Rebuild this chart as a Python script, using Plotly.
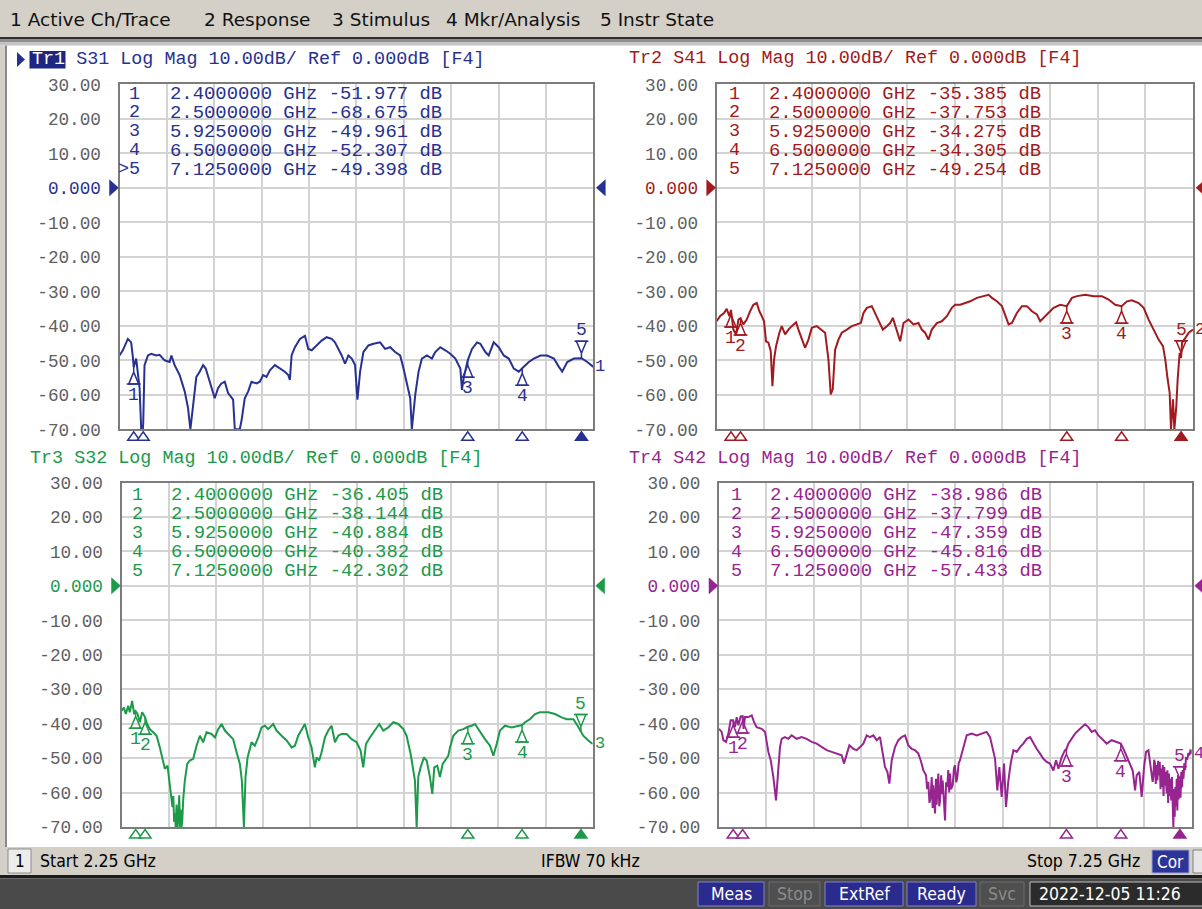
import plotly.graph_objects as go

W, H = 1202, 909

# ---------------------------------------------------------------- data
freq_s31 = [
    2.250, 2.285, 2.338, 2.373, 2.391, 2.400, 2.426, 2.462, 2.479, 2.500,
    2.514, 2.550, 2.585, 2.638, 2.673, 2.726, 2.779, 2.797, 2.832, 2.885,
    2.938, 2.973, 2.998, 3.026, 3.061, 3.096, 3.132, 3.160, 3.202, 3.255,
    3.290, 3.325, 3.361, 3.396, 3.449, 3.467, 3.519, 3.537, 3.572, 3.608,
    3.643, 3.696, 3.731, 3.766, 3.801, 3.837, 3.890, 3.943, 3.995, 4.031,
    4.048, 4.066, 4.101, 4.154, 4.207, 4.242, 4.278, 4.330, 4.383, 4.436,
    4.489, 4.524, 4.560, 4.595, 4.630, 4.665, 4.701, 4.736, 4.761, 4.789,
    4.824, 4.877, 4.930, 5.000, 5.053, 5.106, 5.159, 5.212, 5.247, 5.282,
    5.318, 5.335, 5.371, 5.406, 5.441, 5.494, 5.547, 5.582, 5.635, 5.688,
    5.741, 5.794, 5.847, 5.864, 5.882, 5.925, 5.970, 6.023, 6.058, 6.111,
    6.146, 6.199, 6.252, 6.305, 6.358, 6.411, 6.464, 6.500, 6.569, 6.622,
    6.693, 6.763, 6.834, 6.887, 6.922, 6.975, 7.045, 7.125, 7.187, 7.250]
db_s31 = [
    -48.6, -47.1, -43.8, -44.8, -49.0, -52.0, -49.5, -58.1, -70.0, -68.7,
    -51.4, -48.6, -48.1, -48.6, -48.4, -50.0, -50.5, -48.6, -51.4, -54.3,
    -59.0, -63.8, -70.0, -62.9, -54.8, -53.3, -51.4, -52.4, -56.2, -61.0,
    -58.1, -56.7, -56.2, -59.5, -61.4, -70.0, -70.0, -67.6, -61.0, -59.0,
    -56.2, -56.7, -56.2, -54.3, -54.8, -52.9, -51.4, -52.4, -53.3, -54.3,
    -55.7, -48.6, -46.2, -43.8, -42.9, -46.7, -47.1, -45.7, -44.3, -43.3,
    -43.8, -44.8, -46.7, -48.6, -51.0, -48.6, -49.5, -51.4, -61.4, -53.3,
    -47.6, -45.7, -45.2, -44.8, -46.7, -46.2, -47.6, -48.6, -52.4, -57.1,
    -61.0, -70.0, -60.0, -53.3, -49.5, -48.6, -49.5, -47.6, -46.2, -47.1,
    -48.1, -49.5, -52.4, -58.6, -55.2, -50.0, -46.7, -44.8, -45.2, -47.6,
    -48.6, -44.8, -46.2, -48.6, -49.5, -52.4, -53.3, -52.3, -50.5, -49.5,
    -48.6, -48.6, -49.5, -51.9, -53.3, -50.5, -49.5, -49.4, -50.5, -51.9]

freq_s41 = [
    2.250, 2.285, 2.327, 2.355, 2.383, 2.400, 2.425, 2.453, 2.478, 2.500,
    2.530, 2.565, 2.600, 2.635, 2.670, 2.698, 2.723, 2.747, 2.768, 2.793,
    2.817, 2.835, 2.852, 2.873, 2.908, 2.933, 2.968, 3.003, 3.038, 3.083,
    3.108, 3.143, 3.178, 3.213, 3.248, 3.300, 3.353, 3.388, 3.423, 3.447,
    3.468, 3.493, 3.528, 3.563, 3.616, 3.668, 3.721, 3.763, 3.791, 3.826,
    3.878, 3.913, 3.948, 3.994, 4.036, 4.071, 4.099, 4.141, 4.176, 4.211,
    4.263, 4.316, 4.368, 4.403, 4.438, 4.473, 4.508, 4.561, 4.613, 4.666,
    4.718, 4.753, 4.806, 4.859, 4.911, 4.981, 5.051, 5.104, 5.139, 5.191,
    5.244, 5.279, 5.314, 5.349, 5.401, 5.454, 5.506, 5.559, 5.611, 5.646,
    5.699, 5.734, 5.786, 5.856, 5.925, 5.979, 6.032, 6.119, 6.207, 6.294,
    6.364, 6.434, 6.500, 6.557, 6.609, 6.679, 6.732, 6.784, 6.837, 6.889,
    6.935, 6.959, 6.984, 7.005, 7.019, 7.040, 7.054, 7.075, 7.089, 7.110,
    7.125, 7.135, 7.170, 7.205, 7.250]
db_s41 = [
    -38.7, -37.2, -36.3, -35.1, -37.2, -35.4, -41.1, -42.5, -38.2, -37.8,
    -39.6, -38.2, -35.8, -33.9, -33.4, -35.8, -37.2, -38.7, -44.5, -44.9,
    -47.3, -57.5, -49.8, -45.9, -42.0, -40.1, -42.5, -41.1, -40.1, -39.0,
    -41.1, -43.5, -46.4, -44.0, -40.6, -40.1, -41.1, -42.0, -49.8, -59.9,
    -58.4, -46.9, -44.0, -42.0, -41.1, -40.1, -39.6, -39.2, -36.3, -34.8,
    -34.3, -36.3, -38.2, -41.1, -40.1, -39.2, -37.7, -41.1, -44.5, -39.2,
    -38.2, -39.6, -39.2, -41.1, -42.0, -44.0, -41.1, -39.2, -38.7, -37.2,
    -34.8, -33.9, -33.9, -33.4, -32.9, -31.9, -31.4, -31.0, -31.9, -32.9,
    -34.3, -37.2, -39.6, -39.2, -36.3, -34.3, -34.3, -35.8, -36.7, -38.7,
    -37.2, -36.3, -34.8, -33.9, -34.3, -31.9, -31.4, -31.0, -31.4, -31.4,
    -32.4, -33.9, -34.3, -32.9, -32.6, -33.4, -34.8, -38.2, -41.1, -44.0,
    -45.9, -49.8, -55.5, -59.4, -70.0, -61.3, -70.0, -63.3, -55.5, -47.8,
    -49.3, -44.9, -43.5, -42.0, -41.1]

freq_s32 = [
    2.250, 2.275, 2.296, 2.321, 2.338, 2.363, 2.384, 2.400, 2.420, 2.445,
    2.469, 2.500, 2.522, 2.551, 2.586, 2.622, 2.657, 2.685, 2.710, 2.738,
    2.763, 2.791, 2.800, 2.808, 2.816, 2.825, 2.834, 2.845, 2.855, 2.862,
    2.872, 2.880, 2.887, 2.895, 2.905, 2.922, 2.947, 2.975, 3.011, 3.046,
    3.082, 3.117, 3.152, 3.205, 3.241, 3.276, 3.312, 3.347, 3.400, 3.435,
    3.471, 3.506, 3.527, 3.549, 3.566, 3.588, 3.630, 3.665, 3.701, 3.736,
    3.772, 3.807, 3.860, 3.895, 3.949, 4.002, 4.055, 4.090, 4.125, 4.161,
    4.196, 4.232, 4.267, 4.302, 4.320, 4.348, 4.373, 4.409, 4.444, 4.479,
    4.515, 4.550, 4.585, 4.639, 4.692, 4.745, 4.787, 4.815, 4.844, 4.886,
    4.939, 4.985, 5.028, 5.081, 5.134, 5.187, 5.240, 5.275, 5.318, 5.346,
    5.364, 5.382, 5.399, 5.424, 5.459, 5.488, 5.523, 5.548, 5.569, 5.601,
    5.629, 5.658, 5.682, 5.718, 5.736, 5.771, 5.824, 5.877, 5.925, 5.965,
    6.001, 6.054, 6.107, 6.160, 6.196, 6.231, 6.266, 6.319, 6.390, 6.500,
    6.532, 6.585, 6.638, 6.691, 6.779, 6.850, 6.921, 6.974, 7.045, 7.090,
    7.125, 7.150, 7.203, 7.250]
db_s32 = [
    -36.3, -35.3, -37.2, -34.8, -36.7, -33.4, -37.2, -36.4, -37.2, -39.6,
    -36.7, -38.1, -40.1, -41.6, -42.5, -43.5, -46.9, -50.7, -53.1, -52.2,
    -57.5, -64.2, -61.0, -68.5, -66.0, -70.0, -63.5, -70.0, -67.0, -60.8,
    -70.0, -65.0, -70.0, -68.0, -62.0, -56.5, -51.7, -50.7, -50.2, -46.4,
    -43.5, -45.4, -42.5, -43.0, -44.0, -41.6, -40.1, -42.0, -43.5, -44.5,
    -48.3, -51.7, -56.5, -70.0, -55.5, -49.8, -45.4, -46.4, -44.0, -41.1,
    -40.6, -41.6, -40.1, -42.0, -43.5, -44.9, -46.9, -46.4, -43.5, -41.6,
    -40.1, -44.0, -46.9, -52.7, -49.8, -50.7, -48.3, -44.0, -42.0, -40.6,
    -45.4, -43.5, -43.0, -43.0, -44.5, -45.4, -47.8, -52.7, -45.9, -44.0,
    -42.0, -40.1, -42.0, -41.1, -39.6, -40.1, -41.6, -43.5, -48.8, -53.1,
    -56.5, -70.0, -55.5, -52.7, -49.8, -50.7, -55.5, -60.4, -52.7, -52.2,
    -55.5, -51.7, -50.7, -49.3, -46.9, -43.5, -42.0, -41.6, -40.9, -40.6,
    -40.1, -42.5, -44.5, -46.4, -49.3, -45.9, -42.0, -40.6, -41.1, -40.4,
    -39.6, -38.7, -37.2, -36.7, -36.7, -37.2, -38.2, -38.7, -38.7, -40.6,
    -42.3, -43.5, -44.9, -45.9]

freq_s42 = [
    2.250, 2.278, 2.296, 2.324, 2.349, 2.373, 2.400, 2.419, 2.437, 2.455,
    2.479, 2.500, 2.510, 2.525, 2.560, 2.596, 2.620, 2.648, 2.701, 2.737,
    2.772, 2.797, 2.825, 2.853, 2.874, 2.895, 2.913, 2.948, 2.983, 3.019,
    3.072, 3.124, 3.177, 3.230, 3.283, 3.336, 3.389, 3.442, 3.495, 3.548,
    3.572, 3.601, 3.629, 3.671, 3.706, 3.742, 3.777, 3.812, 3.847, 3.883,
    3.918, 3.953, 3.981, 4.006, 4.031, 4.052, 4.077, 4.112, 4.147, 4.182,
    4.218, 4.253, 4.288, 4.323, 4.359, 4.383, 4.412, 4.440, 4.452, 4.464,
    4.476, 4.489, 4.500, 4.510, 4.517, 4.526, 4.535, 4.545, 4.552, 4.560,
    4.570, 4.580, 4.588, 4.600, 4.608, 4.616, 4.628, 4.641, 4.652, 4.665,
    4.675, 4.685, 4.694, 4.705, 4.722, 4.735, 4.746, 4.760, 4.771, 4.785,
    4.799, 4.835, 4.870, 4.923, 4.976, 5.029, 5.081, 5.117, 5.145, 5.170,
    5.194, 5.215, 5.240, 5.265, 5.286, 5.311, 5.335, 5.364, 5.399, 5.434,
    5.469, 5.505, 5.540, 5.575, 5.610, 5.646, 5.681, 5.716, 5.751, 5.787,
    5.815, 5.840, 5.875, 5.910, 5.925, 5.945, 5.981, 6.016, 6.069, 6.122,
    6.157, 6.192, 6.227, 6.263, 6.316, 6.351, 6.404, 6.457, 6.500, 6.534,
    6.570, 6.598, 6.626, 6.651, 6.668, 6.696, 6.721, 6.746, 6.767, 6.792,
    6.816, 6.837, 6.845, 6.853, 6.862, 6.870, 6.878, 6.887, 6.895, 6.903,
    6.912, 6.920, 6.928, 6.936, 6.944, 6.952, 6.960, 6.968, 6.976, 6.985,
    6.993, 7.001, 7.009, 7.017, 7.025, 7.033, 7.041, 7.049, 7.056, 7.063,
    7.070, 7.077, 7.084, 7.091, 7.098, 7.105, 7.112, 7.119, 7.125, 7.132,
    7.140, 7.148, 7.155, 7.163, 7.172, 7.180, 7.190, 7.204, 7.215, 7.226,
    7.238, 7.250]
db_s42 = [
    -41.5, -42.4, -44.8, -45.3, -42.9, -39.0, -39.0, -41.0, -38.1, -40.5,
    -37.9, -37.8, -41.5, -38.1, -38.1, -37.6, -39.5, -41.0, -41.5, -42.4,
    -48.2, -50.6, -55.5, -62.3, -54.5, -46.8, -44.4, -43.9, -44.4, -43.4,
    -44.4, -43.9, -44.4, -45.3, -45.8, -46.8, -47.7, -48.2, -48.7, -49.2,
    -51.6, -49.2, -46.3, -47.3, -47.7, -46.8, -45.8, -43.4, -43.9, -43.4,
    -44.8, -43.9, -48.7, -52.6, -54.0, -57.4, -50.6, -46.8, -44.8, -43.9,
    -43.4, -46.3, -47.3, -47.7, -48.7, -50.6, -53.6, -55.0, -59.0, -56.9,
    -63.0, -61.3, -55.5, -64.5, -57.9, -62.0, -66.1, -56.0, -63.5, -59.4,
    -54.5, -64.0, -62.3, -55.0, -60.5, -56.5, -62.5, -68.1, -57.0, -58.4,
    -53.5, -60.0, -54.5, -59.0, -57.9, -53.0, -52.1, -57.0, -55.5, -51.5,
    -50.6, -46.8, -43.4, -42.9, -43.4, -42.9, -42.4, -43.9, -46.8, -50.2,
    -59.4, -52.6, -61.3, -51.6, -64.2, -56.5, -51.6, -47.7, -48.2, -46.8,
    -45.8, -44.4, -43.9, -45.8, -47.3, -48.7, -50.2, -51.1, -51.6, -53.6,
    -50.6, -53.1, -49.7, -47.7, -47.4, -45.8, -44.4, -42.9, -41.5, -40.2,
    -41.0, -42.4, -41.9, -43.4, -44.8, -45.8, -44.8, -45.3, -45.8, -47.7,
    -50.2, -52.1, -53.6, -59.4, -55.0, -54.0, -61.3, -52.6, -48.2, -47.7,
    -52.6, -56.9, -55.0, -50.5, -51.6, -57.5, -52.0, -56.5, -50.8, -55.0,
    -51.1, -59.0, -53.0, -58.4, -52.0, -61.0, -52.6, -58.0, -54.0, -60.3,
    -53.5, -63.0, -54.5, -61.0, -56.0, -62.3, -55.5, -66.0, -70.0, -59.0,
    -67.0, -58.4, -64.0, -56.0, -65.2, -55.0, -62.0, -56.5, -57.4, -61.5,
    -54.0, -58.5, -53.5, -56.0, -51.5, -53.5, -50.0, -50.2, -48.5, -49.2,
    -47.5, -48.7]

marker_freq = [2.4, 2.5, 5.925, 6.5, 7.125]
mk_s31 = [-51.977, -68.675, -49.961, -52.307, -49.398]
mk_s41 = [-35.385, -37.753, -34.275, -34.305, -49.254]
mk_s32 = [-36.405, -38.144, -40.884, -40.382, -42.302]
mk_s42 = [-38.986, -37.799, -47.359, -45.816, -57.433]
active_marker = 5

f_start, f_stop = 2.25, 7.25
ref_db, top_db, bottom_db = 0, 30, -70
y_ticks = [30, 20, 10, 0, -10, -20, -30, -40, -50, -60, -70]
y_tick_text = ["30.00", "20.00", "10.00", "0.000", "-10.00", "-20.00",
               "-30.00", "-40.00", "-50.00", "-60.00", "-70.00"]

menu_items = ["1 Active Ch/Trace", "2 Response", "3 Stimulus", "4 Mkr/Analysis", "5 Instr State"]
status_texts = ["Start 2.25 GHz", "IFBW 70 kHz", "Stop 7.25 GHz"]
bottom_buttons = ["Meas", "Stop", "ExtRef", "Ready", "Svc"]
date_text = "2022-12-05 11:26"

# ---------------------------------------------------------------- style
MONO = "Liberation Mono, DejaVu Sans Mono, monospace"
SANS = "DejaVu Sans, Verdana, sans-serif"
COND = "DejaVu Sans Condensed, Liberation Sans Narrow, DejaVu Sans, sans-serif"
GRID = "#d3d3d3"
BORDER = "#7c7c7c"
LABEL = "#5f5f5f"
WIN = "#d4d0c8"

panels = [
    dict(tag="Tr1", param="S31", color="#27318f", f=freq_s31, d=db_s31, m=mk_s31,
         box=(119.5, 593.3, 84.3, 429.3), head=(29.5, 59.5), num_r=142, val_x=168, row0=94),
    dict(tag="Tr2", param="S41", color="#a01a20", f=freq_s41, d=db_s41, m=mk_s41,
         box=(716.7, 1193.0, 84.3, 429.3), head=(627, 58.5), num_r=742, val_x=767, row0=94),
    dict(tag="Tr3", param="S32", color="#1c9a4a", f=freq_s32, d=db_s32, m=mk_s32,
         box=(121.5, 592.7, 482.5, 827.0), head=(28, 458.5), num_r=145, val_x=169, row0=495),
    dict(tag="Tr4", param="S42", color="#972590", f=freq_s42, d=db_s42, m=mk_s42,
         box=(719.0, 1191.7, 482.5, 827.0), head=(627, 458.5), num_r=744, val_x=768, row0=495),
]


def px(x):
    return x / W


def py(y):
    return 1 - y / H


fig = go.Figure()
shapes = []
annotations = []


def rect(x0, y0, x1, y1, fill, line=None, lw=1, layer="below"):
    shapes.append(dict(type="rect", xref="paper", yref="paper",
                       x0=px(x0), x1=px(x1), y0=py(y1), y1=py(y0),
                       fillcolor=fill, layer=layer,
                       line=dict(color=line if line else fill, width=lw if line else 0)))


def text(x, y, s, color, size, family, xanchor="left", **kw):
    annotations.append(dict(xref="paper", yref="paper", x=px(x), y=py(y), text=s,
                            showarrow=False, xanchor=xanchor, yanchor="middle",
                            font=dict(color=color, size=size, family=family), **kw))


# ---------------------------------------------------------------- window chrome
rect(0, 0, W, 37, WIN)
rect(0, 37, W, 39.5, "#2e2e2e")
rect(0, 39.5, W, 42.5, "#8e8e8e")
rect(0, 42.5, W, 45.5, "#c4c4c4")
rect(0, 45.5, 5, 847, WIN)
rect(5, 45.5, 7, 847, "#8a8a8a")
rect(0, 847, W, 875, WIN)
rect(0, 875, W, 878.5, "#1c1c1c")
rect(0, 878.5, W, H, "#4a4a4a")

for item, x in zip(menu_items, [8, 202, 330, 444, 598]):
    text(x, 20, item, "#111111", 18.5, SANS)

# channel status bar
rect(8, 849, 31, 873, "#ececec", "#8c8c8c", 1)
text(19.5, 861, "1", "#000000", 17, COND, xanchor="center")
text(38, 861, status_texts[0], "#000000", 17.5, COND)
text(590, 861, status_texts[1], "#000000", 17.5, COND, xanchor="center")
text(1142, 861, status_texts[2], "#000000", 17.5, COND, xanchor="right")
rect(1152, 850, 1189, 873, "#2c3596", "#9aa0d8", 1)
text(1170.5, 861.5, "Cor", "#ffffff", 17, COND, xanchor="center")
rect(1193, 850, 1204, 873, "#e6e6e6", "#808080", 1)

# instrument status bar
btn_geom = [(698, 764, True), (769, 820, False), (825, 903, True), (907, 976, True), (980, 1024, False)]
for label, (bx0, bx1, on) in zip(bottom_buttons, btn_geom):
    if on:
        rect(bx0, 882, bx1, 906, "#2a2b8c", "#7f84c8", 1)
        text((bx0 + bx1) / 2, 894, label, "#ffffff", 17.5, COND, xanchor="center")
    else:
        rect(bx0, 882, bx1, 906, "#4f4f4f", "#6c6c6c", 1)
        text((bx0 + bx1) / 2, 894, label, "#8c8c8c", 17.5, COND, xanchor="center")
rect(1030, 882, 1206, 906, "#2b2b2b", "#bdbdbd", 1)
text(1037, 894, date_text, "#ffffff", 17.5, COND)

# ---------------------------------------------------------------- panels
for i, p in enumerate(panels):
    n = "" if i == 0 else str(i + 1)
    x0, x1, y0, y1 = p["box"]
    col = p["color"]
    dx = (f_stop - f_start) / (x1 - x0)      # GHz per pixel
    dy = (top_db - bottom_db) / (y1 - y0)    # dB per pixel

    ticktext = [f"<span style='color:{col}'>{t}</span>" if v == ref_db else t
                for v, t in zip(y_ticks, y_tick_text)]
    fig.update_layout(**{
        f"xaxis{n}": dict(domain=[px(x0), px(x1)], anchor=f"y{n}", range=[f_start, f_stop],
                          tick0=f_start, dtick=0.5, showticklabels=False, ticks="",
                          showgrid=True, gridcolor=GRID, gridwidth=2, zeroline=False,
                          showline=True, linecolor=BORDER, linewidth=2, mirror=True,
                          fixedrange=True, automargin=False),
        f"yaxis{n}": dict(domain=[py(y1), py(y0)], anchor=f"x{n}", range=[bottom_db, top_db],
                          tickvals=y_ticks, ticktext=ticktext, ticks="outside", ticklen=13,
                          tickcolor="rgba(0,0,0,0)",
                          tickfont=dict(family=MONO, size=17.7, color=LABEL),
                          showgrid=True, gridcolor=GRID, gridwidth=2, zeroline=False,
                          showline=True, linecolor=BORDER, linewidth=2, mirror=True,
                          fixedrange=True, automargin=False),
    })
    xa, ya = f"x{n}", f"y{n}"

    # measured trace
    fig.add_trace(go.Scatter(x=p["f"], y=p["d"], xaxis=xa, yaxis=ya, mode="lines",
                             line=dict(color=col, width=2), hoverinfo="skip"))

    # marker glyphs on the trace
    gx, gy = [], []
    for k, (mf, mv) in enumerate(zip(marker_freq, p["m"])):
        s = 1 if (k + 1) == active_marker else -1
        gx += [mf, mf, mf - 5 * dx, mf + 5 * dx, mf, None]
        gy += [mv, mv + s * 5 * dy, mv + s * 17 * dy, mv + s * 17 * dy, mv + s * 5 * dy, None]
        gx += [mf - 7 * dx, mf + 7 * dx, None]
        gy += [mv + s * 17 * dy, mv + s * 17 * dy, None]
        label_y = mv + s * 28 * dy
        if label_y > bottom_db + 4 * dy:
            annotations.append(dict(xref=xa, yref=ya, x=mf, y=label_y, text=str(k + 1),
                                    showarrow=False, xanchor="center", yanchor="middle",
                                    font=dict(family=MONO, size=18, color=col)))
    fig.add_trace(go.Scatter(x=gx, y=gy, xaxis=xa, yaxis=ya, mode="lines",
                             line=dict(color=col, width=1.5), hoverinfo="skip"))

    # marker indicators just under the frequency axis
    for k, mf in enumerate(marker_freq):
        on = (k + 1) == active_marker
        shapes.append(dict(type="path", xref=xa, yref="paper", xsizemode="pixel",
                           ysizemode="pixel", xanchor=mf, yanchor=py(y1),
                           path="M -6,-11 L 6,-11 L 0,-2.5 Z",
                           fillcolor=col if on else "#ffffff",
                           line=dict(color=col, width=1.5), layer="above"))

    # reference-level arrows
    shapes.append(dict(type="path", xref="paper", yref=ya, xsizemode="pixel",
                       ysizemode="pixel", xanchor=px(x0), yanchor=ref_db,
                       path="M -10,8 L -1,0 L -10,-8 Z", fillcolor=col,
                       line=dict(color=col, width=0.5), layer="above"))
    shapes.append(dict(type="path", xref="paper", yref=ya, xsizemode="pixel",
                       ysizemode="pixel", xanchor=px(x1), yanchor=ref_db,
                       path="M 12,8 L 3,0 L 12,-8 Z", fillcolor=col,
                       line=dict(color=col, width=0.5), layer="above"))

    # trace number at end of trace
    annotations.append(dict(xref=xa, yref=ya, x=f_stop, y=p["d"][-1], text=p["tag"][-1],
                            showarrow=False, xanchor="left", yanchor="middle", xshift=0,
                            font=dict(family=MONO, size=17, color=col)))

    # header line
    hx, hy = p["head"]
    header = f"{p['tag']} {p['param']} Log Mag 10.00dB/ Ref 0.000dB [F4]"
    if i == 0:
        shapes.append(dict(type="path", xref="paper", yref="paper",
                           path=f"M {px(17)},{py(52)} L {px(25)},{py(59.5)} L {px(17)},{py(67)} Z",
                           fillcolor=col, line=dict(width=0)))
        rect(29.5, 51, 65.5, 68.5, "#1d2680", layer="above")
        header = f"<span style='color:#ffffff'>{p['tag']}</span> {p['param']} Log Mag 10.00dB/ Ref 0.000dB [F4]"
    text(hx, hy, header, col, 18.4, MONO)

    # marker readout table
    for k, (mf, mv) in enumerate(zip(marker_freq, p["m"])):
        ry = p["row0"] + 19 * k
        num = str(k + 1)
        if i == 0 and (k + 1) == active_marker:
            num = ">" + num
        text(p["num_r"], ry, num, col, 18.4, MONO, xanchor="right")
        text(p["val_x"], ry, f"{mf:.7f} GHz {mv:.3f} dB", col, 18.9, MONO)

fig.update_layout(width=W, height=H, autosize=False,
                  margin=dict(l=0, r=0, t=0, b=0, pad=0, autoexpand=False),
                  paper_bgcolor="#ffffff", plot_bgcolor="#ffffff", showlegend=False,
                  shapes=shapes, annotations=annotations)

fig.write_html("out.html", include_plotlyjs=True, config={"displayModeBar": False},
               post_script="document.body.style.margin='0px';document.body.style.overflow='hidden';")
